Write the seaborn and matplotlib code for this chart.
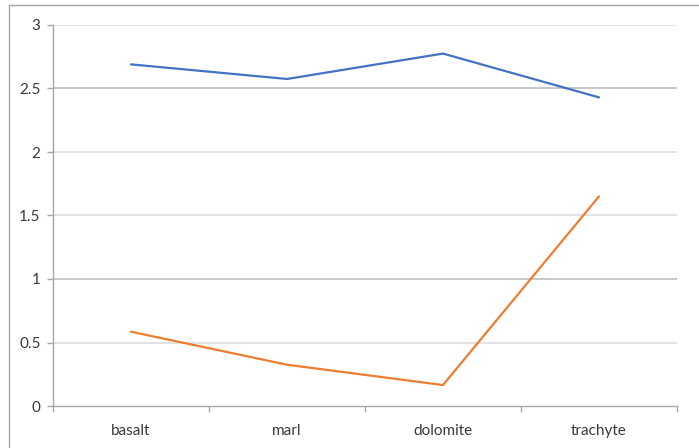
import matplotlib
matplotlib.use("Agg")
import matplotlib.pyplot as plt
from matplotlib.patches import Rectangle
import seaborn as sns
import pandas as pd

categories = ["basalt", "marl", "dolomite", "trachyte"]
series_a = [2.69, 2.575, 2.775, 2.43]
series_b = [0.585, 0.325, 0.165, 1.65]
y_ticks = [0, 0.5, 1, 1.5, 2, 2.5, 3]
y_labels = ["0", "0.5", "1", "1.5", "2", "2.5", "3"]

df = pd.DataFrame({
    "rock": categories * 2,
    "value": series_a + series_b,
    "series": ["A"] * 4 + ["B"] * 4,
})

sns.set_theme(style="white")
plt.rcParams["font.family"] = ["Lato", "DejaVu Sans"]

fig = plt.figure(figsize=(6.99, 4.48), dpi=100)
W, H = 699, 448
ax = fig.add_axes([53 / W, 1 - 406 / H, (677 - 53) / W, (406 - 25) / H])

# outer chart frame
fig.patches.append(Rectangle((9 / W, -0.1), 1.2, 1 - 5 / H + 0.1,
                             transform=fig.transFigure, fill=False,
                             edgecolor="#a6a6a6", linewidth=1.0))

# gridlines
for y in y_ticks[1:]:
    col = "#bdbdbd" if y in (1, 2.5) else "#dedede"
    ax.axhline(y, color=col, linewidth=1.2, zorder=0)

sns.lineplot(data=df, x="rock", y="value", hue="series",
             palette=["#4472C4", "#ED7D31"], linewidth=1.6,
             legend=False, ax=ax, sort=False)

ax.set_xlim(-0.5, 3.5)
ax.set_ylim(0, 3)
ax.set_yticks(y_ticks)
ax.set_yticklabels(y_labels)
ax.set_xticks(range(len(categories)))
ax.set_xticklabels(categories)
ax.set_xticks([-0.5, 0.5, 1.5, 2.5, 3.5], minor=True)
ax.set_xlabel("")
ax.set_ylabel("")

for s in ["top", "right"]:
    ax.spines[s].set_visible(False)
for s in ["left", "bottom"]:
    ax.spines[s].set_color("#a6a6a6")
    ax.spines[s].set_linewidth(1.0)

ax.tick_params(axis="x", which="major", length=0, pad=13, labelsize=11,
               labelcolor="#3a3a3a")
ax.tick_params(axis="x", which="minor", length=4, width=1.0, color="#a6a6a6",
               direction="out", bottom=True)
ax.tick_params(axis="y", length=4, width=1.0, color="#a6a6a6", direction="out",
               pad=5, labelsize=11, labelcolor="#3a3a3a", left=True)

fig.savefig("out.png", dpi=100)
